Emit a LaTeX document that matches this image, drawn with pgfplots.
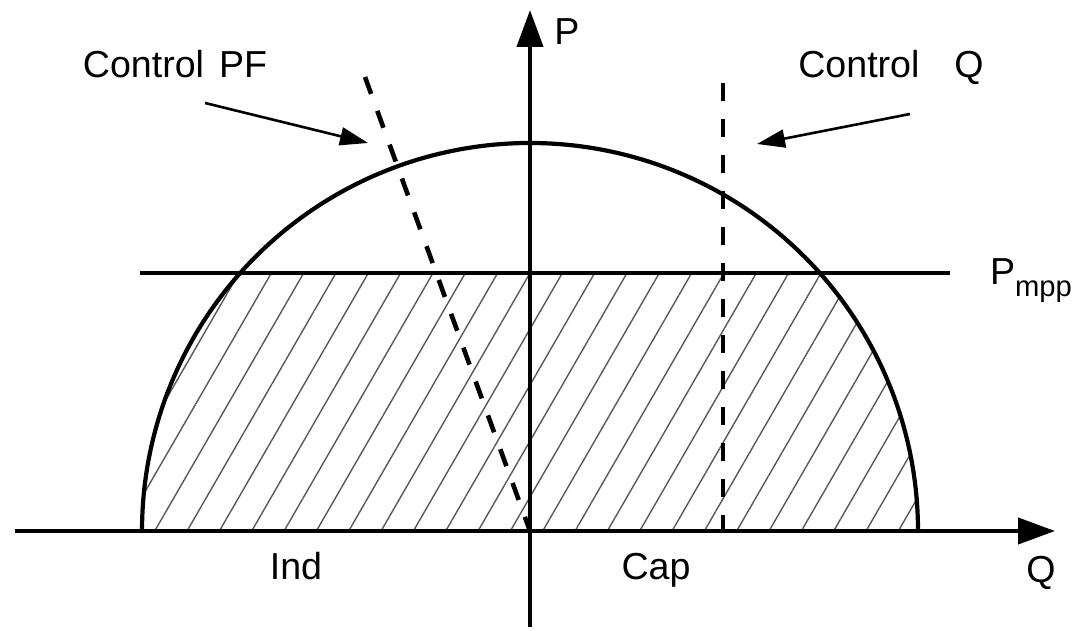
\documentclass[border=0pt]{standalone}
\usepackage{pgfplots}
\pgfplotsset{compat=1.18}
\usepackage{fontspec}
\setmainfont{Liberation Sans}
\usetikzlibrary{arrows.meta,patterns.meta}
\tikzset{lbl/.style={font=\fontsize{9.4}{11}\selectfont, inner sep=0pt, outer sep=0pt}}
\begin{document}
\begin{tikzpicture}
\begin{axis}[
  width=270.25pt, height=157.75pt, scale only axis,
  xmin=-530, xmax=551, ymin=-100, ymax=531,
  hide axis, clip=false,
]
% hatched region
\addplot[draw=none, pattern={Lines[angle=60,distance=7pt,line width=0.35pt]}, pattern color=black!65,
  domain=0:180, samples=361] ({388*cos(x)},{min(388*sin(x),258)}) \closedcycle;
% semicircle
\addplot[line width=1.05pt, domain=0:180, samples=181, smooth] ({388*cos(x)},{388*sin(x)});
% Pmpp line
\addplot[line width=1.05pt] coordinates {(-390,258) (420,258)};
% Control PF dashed
\addplot[line width=1.15pt, dash pattern=on 4.5pt off 4.5pt] coordinates {(-165,454) (0,0)};
% Control Q dashed
\addplot[line width=1.15pt, dash pattern=on 4.5pt off 4.5pt] coordinates {(193,448) (193,0)};
% axes
\addplot[line width=1.05pt, -{Triangle[length=9.25pt,width=6.5pt]}] coordinates {(-515,0) (525,0)};
\addplot[line width=1.05pt, -{Triangle[length=9.25pt,width=6.5pt]}] coordinates {(0,-96) (0,521)};
% annotation arrows
\addplot[line width=0.65pt, -{Triangle[length=7pt,width=4.5pt]}] coordinates {(-325,428) (-162,388)};
\addplot[line width=0.65pt, -{Triangle[length=7pt,width=4.5pt]}] coordinates {(380,417) (227,387)};
% labels
\node[lbl, anchor=base] at (axis cs:-355,453) {Control\hspace{0.4em}PF};
\node[lbl, anchor=base] at (axis cs:361,453) {Control\hspace{0.93em}Q};
\node[lbl, anchor=base] at (axis cs:37,486) {P};
\node[lbl, anchor=base west] at (axis cs:460,246) {P\raisebox{-2.8pt}{\fontsize{7.3}{8}\selectfont mpp}};
\node[lbl, anchor=base] at (axis cs:511,-52) {Q};
\node[lbl, anchor=base] at (axis cs:-234,-49) {Ind};
\node[lbl, anchor=base] at (axis cs:126,-49) {Cap};
\coordinate (bbl) at (rel axis cs:0,0);
\coordinate (btr) at (rel axis cs:1,1);
\end{axis}
\pgfresetboundingbox
\path (bbl) rectangle (btr);
\end{tikzpicture}
\end{document}
